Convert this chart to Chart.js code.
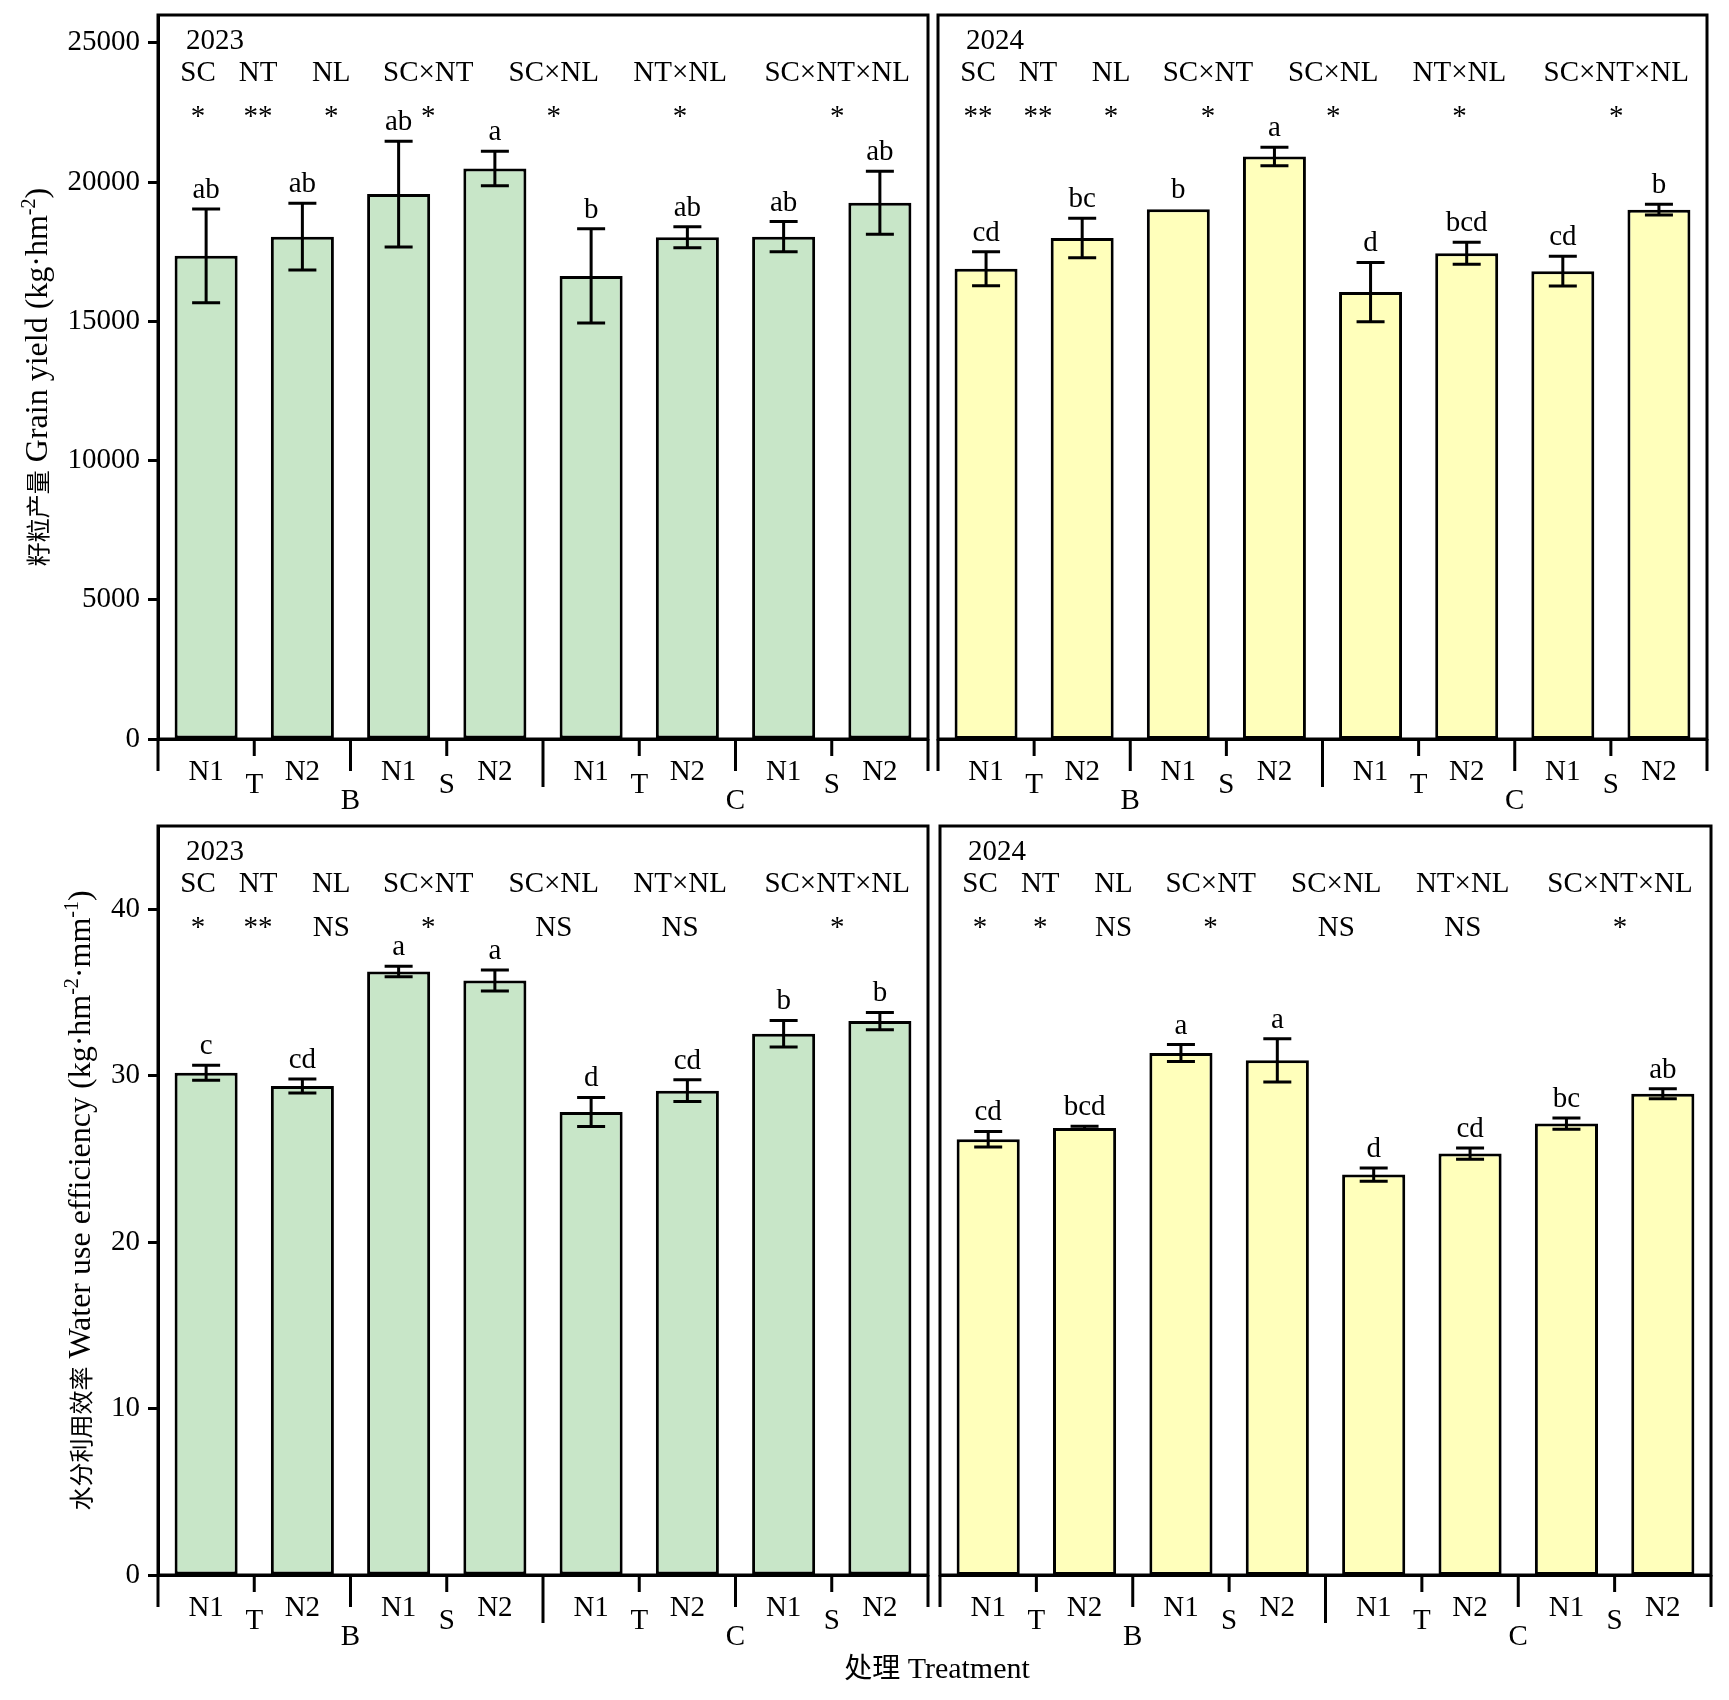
<!DOCTYPE html>
<html>
<head>
<meta charset="utf-8">
<script src="https://cdn.jsdelivr.net/npm/chart.js@4.4.1/dist/chart.umd.min.js"></script>
<style>
  body { margin: 0; background: #fff; }
  #wrap { position: relative; width: 1729px; height: 1700px; }
  #wrap canvas { position: absolute; left: 0; top: 0; }
</style>
</head>
<body>
<div id="wrap">
  <canvas id="yield2023" width="1729" height="1700"></canvas>
  <canvas id="yield2024" width="1729" height="1700"></canvas>
  <canvas id="wue2023" width="1729" height="1700"></canvas>
  <canvas id="wue2024" width="1729" height="1700"></canvas>
</div>
<script>
// categories
const treatments = ['N1', 'N2', 'N1', 'N2', 'N1', 'N2', 'N1', 'N2'];
const tillage = ['T', 'S', 'T', 'S'];
const straw = ['B', 'C'];
const factors = ['SC', 'NT', 'NL', 'SC×NT', 'SC×NL', 'NT×NL', 'SC×NT×NL'];

// tick labels
const yieldTicks = [0, 5000, 10000, 15000, 20000, 25000];
const wueTicks = [0, 10, 20, 30, 40];

// grain yield (kg·hm-2)
const yield2023 = [17350, 18040, 19570, 20490, 16630, 18020, 18040, 19260];
const yieldErr2023 = [1680, 1200, 1900, 620, 1690, 380, 540, 1130];
const yieldLetters2023 = ['ab', 'ab', 'ab', 'a', 'b', 'ab', 'ab', 'ab'];
const yieldSig2023 = ['*', '**', '*', '*', '*', '*', '*'];

const yield2024 = [16890, 17990, 19020, 20920, 16050, 17440, 16800, 19010];
const yieldErr2024 = [610, 710, 0, 335, 1065, 395, 535, 190];
const yieldLetters2024 = ['cd', 'bc', 'b', 'a', 'd', 'bcd', 'cd', 'b'];
const yieldSig2024 = ['**', '**', '*', '*', '*', '*', '*'];

// water use efficiency (kg·hm-2·mm-1)
const wue2023 = [30.18, 29.38, 36.26, 35.72, 27.82, 29.10, 32.52, 33.28];
const wueErr2023 = [0.45, 0.42, 0.32, 0.63, 0.87, 0.65, 0.80, 0.52];
const wueLetters2023 = ['c', 'cd', 'a', 'a', 'd', 'cd', 'b', 'b'];
const wueSig2023 = ['*', '**', 'NS', '*', 'NS', 'NS', '*'];

const wue2024 = [26.18, 26.86, 31.36, 30.92, 24.06, 25.32, 27.12, 28.92];
const wueErr2024 = [0.47, 0.10, 0.51, 1.30, 0.40, 0.34, 0.34, 0.30];
const wueLetters2024 = ['cd', 'bcd', 'a', 'a', 'd', 'cd', 'bc', 'ab'];
const wueSig2024 = ['*', '*', 'NS', '*', 'NS', 'NS', '*'];

const W = 1729, H = 1700, XAXIS_H = 60;
const SERIF = '"Liberation Serif", "Times New Roman", serif';
const CJK = '"Noto Sans CJK SC", sans-serif';
const FS = 29;
const factorPos = [0.052, 0.130, 0.225, 0.351, 0.514, 0.678, 0.882];

// draws a rotated / horizontal title made of mixed segments
function drawTitle(ctx, segs, cx, cy, rotate) {
  ctx.save();
  ctx.translate(cx, cy);
  if (rotate) ctx.rotate(-Math.PI / 2);
  let total = 0;
  segs.forEach(s => { ctx.font = s.font; s.w = ctx.measureText(s.t).width; total += s.w; });
  let x = -total / 2;
  ctx.fillStyle = '#000';
  ctx.textAlign = 'left';
  ctx.textBaseline = 'alphabetic';
  segs.forEach(s => {
    ctx.font = s.font;
    ctx.fillText(s.t, x, 11 - (s.rise || 0));
    x += s.w;
  });
  ctx.restore();
}

const panelPlugin = {
  id: 'panel',
  afterDatasetsDraw(chart, args, p) {
    const ctx = chart.ctx, a = chart.chartArea, y = chart.scales.y;
    const bars = chart.getDatasetMeta(0).data;
    ctx.save();
    ctx.strokeStyle = '#000';
    ctx.fillStyle = '#000';
    ctx.lineWidth = 3;
    ctx.font = FS + 'px ' + SERIF;
    ctx.textAlign = 'center';
    ctx.textBaseline = 'alphabetic';
    bars.forEach((bar, i) => {
      const v = p.values[i], e = p.errors[i];
      let top = y.getPixelForValue(v);
      if (e > 0) {
        top = y.getPixelForValue(v + e);
        const bot = y.getPixelForValue(v - e);
        ctx.beginPath();
        ctx.moveTo(bar.x, top); ctx.lineTo(bar.x, bot);
        ctx.moveTo(bar.x - 14, top); ctx.lineTo(bar.x + 14, top);
        ctx.moveTo(bar.x - 14, bot); ctx.lineTo(bar.x + 14, bot);
        ctx.stroke();
      }
      ctx.fillText(p.letters[i], bar.x, top - 11);
    });

    // frame
    ctx.strokeRect(a.left, a.top, a.right - a.left, a.bottom - a.top);

    // year + factor significance rows
    ctx.textAlign = 'left';
    ctx.fillText(p.year, a.left + 28, a.top + 34);
    ctx.textAlign = 'center';
    factors.forEach((f, i) => {
      const fx = a.left + factorPos[i] * (a.right - a.left);
      ctx.fillText(f, fx, a.top + 66);
      ctx.fillText(p.sig[i], fx, a.top + 110);
    });
    ctx.restore();
  },
  afterDraw(chart, args, p) {
    const ctx = chart.ctx, x = chart.scales.x, base = chart.chartArea.bottom;
    ctx.save();
    ctx.strokeStyle = '#000';
    ctx.fillStyle = '#000';
    ctx.lineWidth = 3;
    ctx.font = FS + 'px ' + SERIF;
    ctx.textAlign = 'center';
    ctx.textBaseline = 'middle';
    for (let k = 0; k <= treatments.length; k++) {
      const px = x.getPixelForValue(k - 0.5);
      const len = k % 2 ? 17 : (k === 4 ? 48 : 32);
      ctx.beginPath();
      ctx.moveTo(px, base);
      ctx.lineTo(px, base + len);
      ctx.stroke();
      if (k % 2) ctx.fillText(tillage[(k - 1) / 2], px, base + 46);
      if (k === 2 || k === 6) ctx.fillText(straw[(k - 2) / 4], px, base + 62);
    }
    ctx.restore();
    if (p.yTitle) drawTitle(ctx, p.yTitle.segs, p.yTitle.x, (chart.chartArea.top + chart.chartArea.bottom) / 2, true);
    if (p.xTitle) drawTitle(ctx, p.xTitle.segs, p.xTitle.x, p.xTitle.y, false);
  }
};

function makePanel(id, p) {
  new Chart(document.getElementById(id), {
    type: 'bar',
    data: {
      labels: treatments,
      datasets: [{
        data: p.values,
        backgroundColor: p.fill,
        borderColor: '#000',
        borderWidth: 3,
        borderSkipped: false,
        barPercentage: 0.655,
        categoryPercentage: 1
      }]
    },
    options: {
      responsive: false,
      animation: false,
      devicePixelRatio: 1,
      layout: {
        padding: { left: p.yAxis ? 0 : p.L, top: p.T, right: W - p.R, bottom: H - p.B - XAXIS_H }
      },
      plugins: { legend: { display: false }, tooltip: { enabled: false }, panel: p },
      scales: {
        x: {
          offset: true,
          grid: { display: false, offset: true },
          border: { display: true, color: '#000', width: 3 },
          ticks: { color: '#000', font: { family: SERIF, size: FS }, padding: 8, maxRotation: 0, autoSkip: false },
          afterFit(s) { s.height = XAXIS_H; s.paddingLeft = 0; s.paddingRight = 0; }
        },
        y: {
          display: p.yAxis,
          min: 0,
          max: p.max,
          grid: { drawOnChartArea: false, drawTicks: true, tickLength: 10, tickWidth: 3, color: '#000' },
          border: { display: true, color: '#000', width: 3 },
          ticks: { color: '#000', font: { family: SERIF, size: FS }, padding: 8, callback: v => String(v) },
          afterBuildTicks(s) { s.ticks = p.ticks.map(v => ({ value: v })); },
          afterFit(s) { if (p.yAxis) s.width = p.L; s.paddingTop = 0; s.paddingBottom = 0; }
        }
      }
    },
    plugins: [panelPlugin]
  });
}

const green = '#c8e6c8', yellow = '#ffffbb';

makePanel('yield2023', {
  L: 158, T: 15, R: 928, B: 739, yAxis: true, max: 26000, ticks: yieldTicks, fill: green, year: '2023',
  values: yield2023, errors: yieldErr2023, letters: yieldLetters2023, sig: yieldSig2023,
  yTitle: { x: 36, segs: [
    { t: '籽粒产量', font: '24px ' + CJK },
    { t: ' Grain yield (kg·hm', font: '32px ' + SERIF },
    { t: '-2', font: '20px ' + SERIF, rise: 12 },
    { t: ')', font: '32px ' + SERIF }
  ] }
});
makePanel('yield2024', {
  L: 938, T: 15, R: 1707, B: 739, yAxis: false, max: 26000, ticks: yieldTicks, fill: yellow, year: '2024',
  values: yield2024, errors: yieldErr2024, letters: yieldLetters2024, sig: yieldSig2024
});
makePanel('wue2023', {
  L: 158, T: 826, R: 928, B: 1575, yAxis: true, max: 45, ticks: wueTicks, fill: green, year: '2023',
  values: wue2023, errors: wueErr2023, letters: wueLetters2023, sig: wueSig2023,
  yTitle: { x: 79, segs: [
    { t: '水分利用效率', font: '24px ' + CJK },
    { t: ' Water use efficiency (kg·hm', font: '32px ' + SERIF },
    { t: '-2', font: '20px ' + SERIF, rise: 12 },
    { t: '·mm', font: '32px ' + SERIF },
    { t: '-1', font: '20px ' + SERIF, rise: 12 },
    { t: ')', font: '32px ' + SERIF }
  ] },
  xTitle: { x: 937, y: 1667, segs: [
    { t: '处理', font: '28px ' + CJK },
    { t: ' Treatment', font: '30px ' + SERIF }
  ] }
});
makePanel('wue2024', {
  L: 940, T: 826, R: 1711, B: 1575, yAxis: false, max: 45, ticks: wueTicks, fill: yellow, year: '2024',
  values: wue2024, errors: wueErr2024, letters: wueLetters2024, sig: wueSig2024
});
</script>
</body>
</html>
